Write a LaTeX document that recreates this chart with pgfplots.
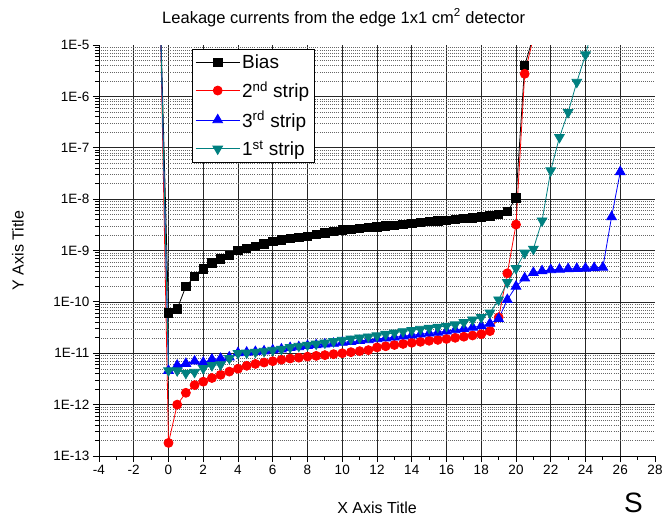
\documentclass[border=0pt]{standalone}
\usepackage{fontspec}
\setmainfont{Liberation Sans}
\usepackage{pgfplots}
\pgfplotsset{compat=1.18}
\definecolor{tealc}{RGB}{0,128,128}

\begin{document}
\begin{tikzpicture}[x=1pt,y=1pt]
\useasboundingbox (0,0) rectangle (663,520);
\begin{axis}[
  at={(99pt,64pt)}, anchor=south west,
  scale only axis, width=556pt, height=411pt,
  xmin=-4, xmax=28, ymin=1e-13, ymax=1e-5,
  ymode=log,
  clip=true,
  xtick={-4,-2,...,26},
  xticklabels={-4,-2,0,2,4,6,8,10,12,14,16,18,20,22,24,26},
  extra x ticks={28}, extra x tick labels={28},
  extra x tick style={grid=none},
  minor xtick={-3,-1,...,27},
  ytick={1e-13,1e-12,1e-11,1e-10,1e-9,1e-8,1e-7,1e-6},
  yticklabels={1E-13,1E-12,1E-11,1E-10,1E-9,1E-8,1E-7,1E-6},
  extra y ticks={1e-5}, extra y tick labels={1E-5},
  extra y tick style={grid=none},
  minor ytick={2e-13,3e-13,4e-13,5e-13,6e-13,7e-13,8e-13,9e-13,
               2e-12,3e-12,4e-12,5e-12,6e-12,7e-12,8e-12,9e-12,
               2e-11,3e-11,4e-11,5e-11,6e-11,7e-11,8e-11,9e-11,
               2e-10,3e-10,4e-10,5e-10,6e-10,7e-10,8e-10,9e-10,
               2e-9,3e-9,4e-9,5e-9,6e-9,7e-9,8e-9,9e-9,
               2e-8,3e-8,4e-8,5e-8,6e-8,7e-8,8e-8,9e-8,
               2e-7,3e-7,4e-7,5e-7,6e-7,7e-7,8e-7,9e-7,
               2e-6,3e-6,4e-6,5e-6,6e-6,7e-6,8e-6,9e-6},
  axis x line*=bottom, axis y line*=left,
  tick align=outside,
  major tick length=6pt, minor tick length=3.5pt,
  xmajorgrids, ymajorgrids, yminorgrids, xminorgrids=false,
  major grid style={black!85, line width=0.75pt},
  minor grid style={black!60, line width=0.45pt, dash pattern=on 0.8pt off 1.3pt},
  tick style={black, line width=0.8pt},
  axis line style={black, line width=0.9pt},
  ticklabel style={font=\fontsize{13.5}{15}\selectfont},
  /pgf/number format/assume math mode=true,
  xlabel={X Axis Title}, ylabel={Y Axis Title},
  xlabel style={at={(axis description cs:0.5,-0.1265)}, anchor=center, font=\fontsize{16}{18}\selectfont},
  ylabel style={at={(axis description cs:-0.1457,0.5)}, anchor=center, font=\fontsize{16}{18}\selectfont},
  title={Leakage currents from the edge 1x1 cm\textsuperscript{2} detector},
  title style={at={(axis description cs:0.44,1.052)}, anchor=center, font=\fontsize{16.5}{18}\selectfont},
  legend style={at={(rel axis cs:0.167,0.99)}, anchor=north west,
    font=\fontsize{19}{21}\selectfont, draw=black, line width=0.9pt, fill=white,
    row sep=8pt, inner sep=3pt},
  legend cell align=left,
  legend image code/.code={\draw[mark repeat=2,mark phase=2,#1] plot coordinates {(0pt,0pt) (22pt,0pt) (44pt,0pt)};},
  every axis plot/.append style={line width=0.8pt},
]
\addplot[black, mark=square*, mark size=4.2pt, mark options={solid}] coordinates {
(-0.5,1e-4) (0,6.1e-11) (0.5,7.3e-11) (1,2.0e-10) (1.5,3.1e-10) (2,4.4e-10) (2.5,5.7e-10)
(3,6.9e-10) (3.5,8.0e-10) (4,1.0e-9) (4.5,1.1e-9) (5,1.2e-9) (5.5,1.35e-9) (6,1.5e-9)
(6.5,1.6e-9) (7,1.7e-9) (7.5,1.8e-9) (8,1.9e-9) (8.5,2.05e-9) (9,2.2e-9) (9.5,2.35e-9)
(10,2.5e-9) (10.5,2.6e-9) (11,2.7e-9) (11.5,2.8e-9) (12,2.9e-9) (12.5,3.0e-9) (13,3.1e-9)
(13.5,3.25e-9) (14,3.4e-9) (14.5,3.5e-9) (15,3.65e-9) (15.5,3.75e-9) (16,3.9e-9)
(16.5,4.05e-9) (17,4.2e-9) (17.5,4.35e-9) (18,4.5e-9) (18.5,4.75e-9) (19,5.0e-9)
(19.5,5.7e-9) (20,1.05e-8) (20.5,4.0e-6) (21,1.5e-5)
};
\addlegendentry{Bias}
\addplot[red, mark=*, mark size=4.5pt, mark options={solid}] coordinates {
(-0.5,1e-4) (0,1.8e-13) (0.5,1.0e-12) (1,1.7e-12) (1.5,2.4e-12) (2,2.8e-12) (2.5,3.3e-12)
(3,3.8e-12) (3.5,4.4e-12) (4,5.0e-12) (4.5,5.7e-12) (5,6.2e-12) (5.5,6.6e-12) (6,7.0e-12)
(6.5,7.5e-12) (7,7.9e-12) (7.5,8.2e-12) (8,8.6e-12) (8.5,8.9e-12) (9,9.2e-12) (9.5,9.6e-12)
(10,1.0e-11) (10.5,1.05e-11) (11,1.1e-11) (11.5,1.15e-11) (12,1.3e-11) (12.5,1.37e-11)
(13,1.45e-11) (13.5,1.52e-11) (14,1.6e-11) (14.5,1.67e-11) (15,1.75e-11) (15.5,1.82e-11)
(16,1.9e-11) (16.5,2.0e-11) (17,2.1e-11) (17.5,2.22e-11) (18,2.35e-11) (18.5,2.7e-11)
(19,5.0e-11) (19.5,3.6e-10) (20,3.2e-9) (20.5,2.75e-6) (21,1.4e-5)
};
\addlegendentry{2\textsuperscript{nd} strip}
\addplot[blue, mark=triangle*, mark size=5.6pt, mark options={solid}] coordinates {
(-0.5,1e-4) (0,4.6e-12) (0.5,5.8e-12) (1,6.3e-12) (1.5,7.0e-12) (2,6.6e-12) (2.5,7.6e-12)
(3,7.9e-12) (3.5,8.4e-12) (4,1.02e-11) (4.5,1.04e-11) (5,1.07e-11) (5.5,1.1e-11)
(6,1.15e-11) (6.5,1.2e-11) (7,1.28e-11) (7.5,1.33e-11) (8,1.4e-11) (8.5,1.45e-11)
(9,1.5e-11) (9.5,1.55e-11) (10,1.62e-11) (10.5,1.68e-11) (11,1.75e-11) (11.5,1.82e-11)
(12,1.9e-11) (12.5,1.97e-11) (13,2.05e-11) (13.5,2.15e-11) (14,2.25e-11) (14.5,2.35e-11)
(15,2.45e-11) (15.5,2.55e-11) (16,2.7e-11) (16.5,2.85e-11) (17,3.0e-11) (17.5,3.2e-11)
(18,3.4e-11) (18.5,3.8e-11) (19,4.7e-11) (19.5,1.1e-10) (20,2.0e-10) (20.5,2.9e-10)
(21,3.7e-10) (21.5,4.0e-10) (22,4.2e-10) (22.5,4.3e-10) (23,4.4e-10) (23.5,4.45e-10)
(24,4.5e-10) (24.5,4.6e-10) (25,4.7e-10) (25.5,4.5e-9) (26,3.4e-8)
};
\addlegendentry{3\textsuperscript{rd} strip}
\addplot[tealc, mark=triangle*, mark size=5.6pt, mark options={solid, rotate=180}] coordinates {
(-0.5,1e-4) (0,4.6e-12) (0.5,4.6e-12) (1,4.1e-12) (1.5,4.3e-12) (2,5.1e-12) (2.5,5.8e-12)
(3,6.0e-12) (3.5,8.0e-12) (4,1.0e-11) (4.5,1.02e-11) (5,1.06e-11) (5.5,1.1e-11)
(6,1.15e-11) (6.5,1.2e-11) (7,1.3e-11) (7.5,1.38e-11) (8,1.45e-11) (8.5,1.52e-11)
(9,1.6e-11) (9.5,1.7e-11) (10,1.8e-11) (10.5,1.9e-11) (11,2.0e-11) (11.5,2.1e-11)
(12,2.2e-11) (12.5,2.35e-11) (13,2.5e-11) (13.5,2.65e-11) (14,2.8e-11) (14.5,2.95e-11)
(15,3.1e-11) (15.5,3.25e-11) (16,3.4e-11) (16.5,3.6e-11) (17,4.0e-11) (17.5,4.5e-11)
(18,5.0e-11) (18.5,6.1e-11) (19,1.1e-10) (19.5,2.4e-10) (20,4.5e-10) (20.5,9.0e-10)
(21,1.07e-9) (21.5,3.8e-9) (22,3.6e-8) (22.5,1.6e-7) (23,4.9e-7) (23.5,1.9e-6)
(24,6.5e-6) (24.5,2.8e-5)
};
\addlegendentry{1\textsuperscript{st} strip}
\end{axis}
\node[anchor=north west, inner sep=0pt, font=\fontsize{28}{28}\selectfont] at (624,27) {S};
\end{tikzpicture}
\end{document}
